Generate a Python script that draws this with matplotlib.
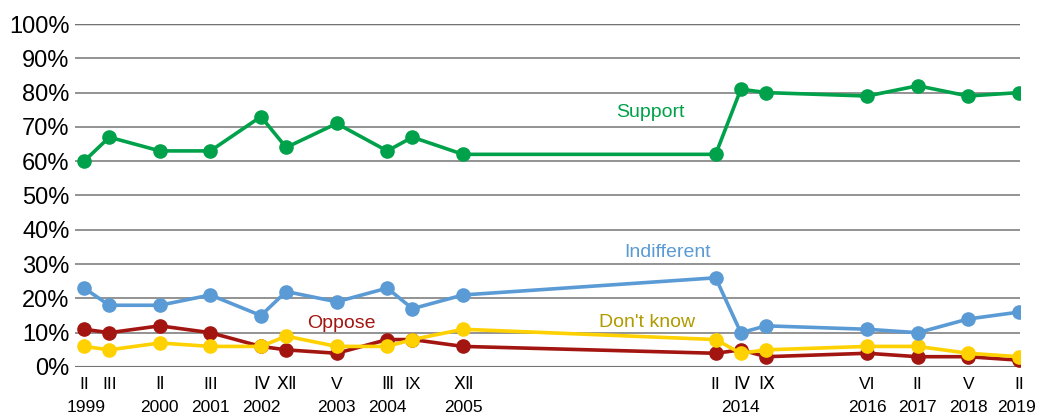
import matplotlib.pyplot as plt
import matplotlib.transforms as mtransforms

plt.rcParams['font.family'] = ['Liberation Sans', 'DejaVu Sans']

# survey positions on the time axis and their month labels
x_pos = [0, 1, 3, 5, 7, 8, 10, 12, 13, 15, 25, 26, 27, 31, 33, 35, 37]
months = ['II', 'III', 'Ⅱ', 'III', 'Ⅳ', 'Ⅻ', 'V', 'Ⅲ', 'IX', 'Ⅻ',
          'II', 'Ⅳ', 'Ⅸ', 'VI', 'II', 'V', 'II']
year_pos = [0.1, 3, 5, 7, 10, 12, 15, 26, 31, 33, 35, 36.9]
years = ['1999', '2000', '2001', '2002', '2003', '2004', '2005',
         '2014', '2016', '2017', '2018', '2019']

support = [60, 67, 63, 63, 73, 64, 71, 63, 67, 62, 62, 81, 80, 79, 82, 79, 80]
indifferent = [23, 18, 18, 21, 15, 22, 19, 23, 17, 21, 26, 10, 12, 11, 10, 14, 16]
oppose = [11, 10, 12, 10, 6, 5, 4, 8, 8, 6, 4, 5, 3, 4, 3, 3, 2]
dont_know = [6, 5, 7, 6, 6, 9, 6, 6, 8, 11, 8, 4, 5, 6, 6, 4, 3]

c_support = '#00a14b'
c_indiff = '#5b9bd5'
c_oppose = '#a31510'
c_dk = '#ffd100'

fig = plt.figure(figsize=(10.4, 4.16), dpi=100)
ax = fig.add_axes([0.0721, 0.1178, 0.9087, 0.8245])

lw = 2.6
ms = 9.5
ax.plot(x_pos, oppose, '-o', color=c_oppose, lw=lw, ms=ms, zorder=3)
ax.plot(x_pos, dont_know, '-o', color=c_dk, lw=lw, ms=ms, zorder=4)
ax.plot(x_pos, indifferent, '-o', color=c_indiff, lw=lw, ms=ms, zorder=5)
ax.plot(x_pos, support, '-o', color=c_support, lw=lw, ms=ms, zorder=6)

ax.set_xlim(-0.36, 37.05)
ax.set_ylim(0, 100)
ax.set_yticks(range(0, 101, 10))
ax.set_yticklabels([f'{v}%' for v in range(0, 101, 10)], fontsize=17)
ax.yaxis.grid(True, color='#808080', lw=1.2, zorder=0)
ax.axhline(0, color='#333333', lw=1.5, zorder=1)
ax.axhline(100, color='#333333', lw=1.0, zorder=1)
for s in ax.spines.values():
    s.set_visible(False)
ax.tick_params(axis='both', length=0)
ax.tick_params(axis='y', pad=4)

ax.set_xticks(x_pos)
ax.set_xticklabels(months, fontsize=12.5)
ax.tick_params(axis='x', pad=7)

trans = mtransforms.blended_transform_factory(ax.transData, ax.transAxes)
for xp, yr in zip(year_pos, years):
    ax.text(xp, -0.117, yr, transform=trans, ha='center', va='center',
            fontsize=12.5)

ax.text(22.4, 74.3, 'Support', color=c_support, fontsize=14,
        ha='center', va='center')
ax.text(23.1, 33.5, 'Indifferent', color=c_indiff, fontsize=14,
        ha='center', va='center')
ax.text(10.2, 12.8, 'Oppose', color=c_oppose, fontsize=14,
        ha='center', va='center')
ax.text(22.3, 13.1, "Don't know", color='#b09a00', fontsize=14,
        ha='center', va='center')

fig.savefig('out.png', dpi=100)
